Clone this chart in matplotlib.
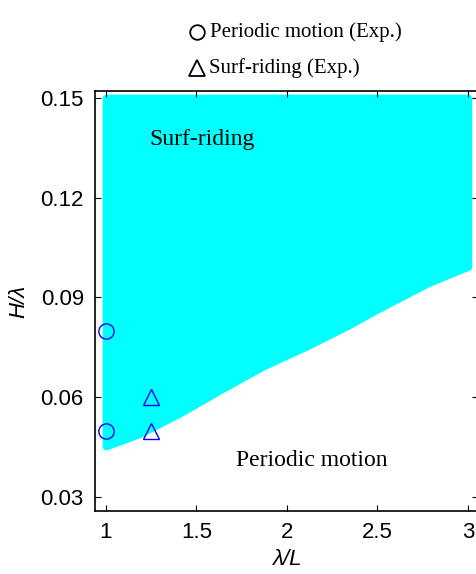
import matplotlib
matplotlib.use("Agg")
import matplotlib.pyplot as plt

# Surf-riding region: lower boundary of H/lambda for each lambda/L (upper edge is 0.15)
lam_l = [1.0, 1.18, 1.4, 1.64, 1.87, 2.11, 2.33, 2.5, 2.78, 3.0]
h_low = [0.0453, 0.0489, 0.0550, 0.0625, 0.0694, 0.0754, 0.0814, 0.0865, 0.0944, 0.0993]
h_top = 0.15

# Experimental points
periodic_x = [1.0, 1.0]
periodic_y = [0.08, 0.05]
surf_x = [1.25, 1.25]
surf_y = [0.06, 0.05]

xticks = [1, 1.5, 2, 2.5, 3]
xtick_labels = ["1", "1.5", "2", "2.5", "3"]
yticks = [0.03, 0.06, 0.09, 0.12, 0.15]
ytick_labels = ["0.03", "0.06", "0.09", "0.12", "0.15"]

plt.rcParams['font.family'] = ['Liberation Sans', 'DejaVu Sans']
serif = ['Liberation Serif', 'DejaVu Serif']

fig = plt.figure(figsize=(4.77, 5.74), dpi=100)
ax = fig.add_axes([0.199, 0.1098, 0.803, 0.7317])

# Cyan region, thick round edge imitates the dotted boundary
ax.fill_between(lam_l, h_low, h_top, facecolor='cyan', edgecolor='cyan',
                linewidth=5.5, joinstyle='round', zorder=1)

ax.plot(periodic_x, periodic_y, 'o', ms=11, mfc='none', mec='blue', mew=1.0, zorder=3)
ax.plot(surf_x, surf_y, '^', ms=12, mfc='none', mec='blue', mew=1.0, zorder=3)

ax.text(1.24, 0.1375, "Surf-riding", fontsize=17, family=serif, va='center', ha='left')
ax.text(1.718, 0.0411, "Periodic motion", fontsize=17, family=serif, va='center', ha='left')

ax.set_xlim(0.939, 3.055)
ax.set_ylim(0.0258, 0.1521)
ax.set_xticks(xticks)
ax.set_xticklabels(xtick_labels)
ax.set_yticks(yticks)
ax.set_yticklabels(ytick_labels)
ax.tick_params(direction='in', top=True, right=True, length=4, width=0.8,
               labelsize=16, pad=8)
for s in ax.spines.values():
    s.set_linewidth(1.2)

ax.set_xlabel("λ/L", fontsize=16, style='italic', labelpad=4)
ax.set_ylabel("H/λ", fontsize=16, style='italic', labelpad=8)

# Legend above the axes
ax.plot([0.413], [0.944], 'o', ms=10.5, mfc='none', mec='black', mew=1.3,
        transform=fig.transFigure, clip_on=False)
ax.plot([0.413], [0.8815], '^', ms=12, mfc='none', mec='black', mew=1.3,
        transform=fig.transFigure, clip_on=False)
fig.text(0.441, 0.944, "Periodic motion (Exp.)", fontsize=15, family=serif, va='center')
fig.text(0.439, 0.8815, "Surf-riding (Exp.)", fontsize=15, family=serif, va='center')

fig.savefig("out.png", dpi=100)
